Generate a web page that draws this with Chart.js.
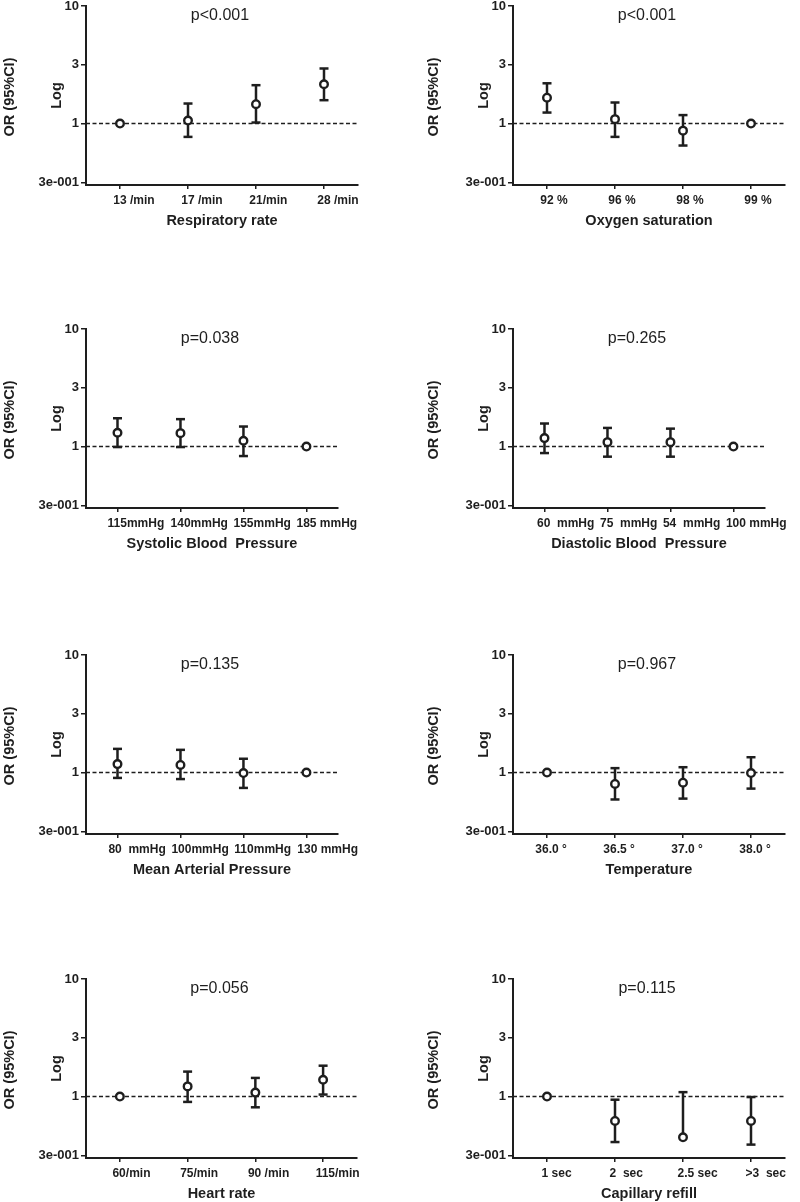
<!DOCTYPE html>
<html>
<head>
<meta charset="utf-8">
<script src="https://cdn.jsdelivr.net/npm/chart.js@4.4.1/dist/chart.umd.min.js"></script>
<style>
  body { margin: 0; background: #fff; width: 800px; height: 1202px; position: relative; overflow: hidden; }
  canvas { position: absolute; }
</style>
</head>
<body>
<script>
// log axis with a tick every half decade (labelled like the original)
const yTicks = [0.3162, 1, 3.162, 10];
const yTickLabels = ['3e-001', '1', '3', '10'];
const yMin = 0.306;
const yMax = 10;
const refOR = 1;

const respCats = ['13 /min', '17 /min', '21/min', '28 /min'];
const respOR = [1, 1.06, 1.46, 2.16];
const respLo = [null, 0.77, 1.02, 1.58];
const respHi = [null, 1.48, 2.12, 2.94];

const oxyCats = ['92 %', '96 %', '98 %', '99 %'];
const oxyOR = [1.66, 1.09, 0.87, 1];
const oxyLo = [1.24, 0.77, 0.65, null];
const oxyHi = [2.2, 1.51, 1.18, null];

const sysCats = ['115mmHg', '140mmHg', '155mmHg', '185 mmHg'];
const sysOR = [1.31, 1.3, 1.12, 1];
const sysLo = [0.99, 0.99, 0.83, null];
const sysHi = [1.74, 1.71, 1.48, null];

const diaCats = ['60  mmHg', '75  mmHg', '54  mmHg', '100 mmHg'];
const diaOR = [1.18, 1.09, 1.09, 1];
const diaLo = [0.88, 0.82, 0.82, null];
const diaHi = [1.57, 1.44, 1.42, null];

const mapCats = ['80  mmHg', '100mmHg', '110mmHg', '130 mmHg'];
const mapOR = [1.18, 1.16, 0.99, 1];
const mapLo = [0.9, 0.88, 0.74, null];
const mapHi = [1.59, 1.56, 1.31, null];

const tempCats = ['36.0 °', '36.5 °', '37.0 °', '38.0 °'];
const tempOR = [1, 0.8, 0.82, 0.99];
const tempLo = [null, 0.59, 0.6, 0.73];
const tempHi = [null, 1.09, 1.11, 1.35];

const hrCats = ['60/min', '75/min', '90 /min', '115/min'];
const hrOR = [1, 1.22, 1.08, 1.39];
const hrLo = [null, 0.9, 0.81, 1.04];
const hrHi = [null, 1.63, 1.44, 1.83];

const capCats = ['1 sec', '2  sec', '2.5 sec', '>3  sec'];
const capOR = [1, 0.62, 0.45, 0.62];
const capLo = [null, 0.41, null, 0.39];
const capHi = [null, 0.94, 1.09, 0.99];

const panels = [
  { title: 'Respiratory rate', p: 'p<0.001', cats: respCats, or: respOR, lo: respLo, hi: respHi },
  { title: 'Oxygen saturation', p: 'p<0.001', cats: oxyCats, or: oxyOR, lo: oxyLo, hi: oxyHi },
  { title: 'Systolic Blood  Pressure', p: 'p=0.038', cats: sysCats, or: sysOR, lo: sysLo, hi: sysHi },
  { title: 'Diastolic Blood  Pressure', p: 'p=0.265', cats: diaCats, or: diaOR, lo: diaLo, hi: diaHi },
  { title: 'Mean Arterial Pressure', p: 'p=0.135', cats: mapCats, or: mapOR, lo: mapLo, hi: mapHi },
  { title: 'Temperature', p: 'p=0.967', cats: tempCats, or: tempOR, lo: tempLo, hi: tempHi },
  { title: 'Heart rate', p: 'p=0.056', cats: hrCats, or: hrOR, lo: hrLo, hi: hrHi },
  { title: 'Capillary refill', p: 'p=0.115', cats: capCats, or: capOR, lo: capLo, hi: capHi }
];

const FONT = '"Liberation Sans", Arial, Helvetica, sans-serif';
const ink = '#1e1e1e';
const rowTops = [-4, 319, 645, 969];
const colLefts = [0, 427];
const orX = [10, 6.5];

Chart.defaults.font.family = FONT;
Chart.defaults.color = ink;

// the numbers sit under the tick, the unit hangs to the right
function numberOffset(cats) {
  const c = document.createElement('canvas').getContext('2d');
  c.font = 'bold 12px ' + FONT;
  let sum = 0;
  cats.forEach(t => {
    const m = t.match(/^[\d.>]+/);
    sum += c.measureText(m ? m[0] : t).width;
  });
  return -sum / cats.length / 2;
}

function makeChart(p, i) {
  const col = i % 2, row = Math.floor(i / 2);
  const canvas = document.createElement('canvas');
  canvas.width = 373;
  canvas.height = 234;
  canvas.style.left = colLefts[col] + 'px';
  canvas.style.top = rowTops[row] + 'px';
  document.body.appendChild(canvas);

  const markers = {
    data: p.or.map((v, k) => ({ x: k, y: v })),
    showLine: false,
    pointRadius: 3.8,
    pointBorderWidth: 2.4,
    pointBackgroundColor: '#fff',
    pointBorderColor: ink
  };

  const bars = [];
  p.or.forEach((v, k) => {
    if (p.hi[k] == null) return;
    const noLo = p.lo[k] == null;
    bars.push({
      data: [{ x: k, y: noLo ? v : p.lo[k] }, { x: k, y: p.hi[k] }],
      showLine: true,
      borderColor: ink,
      borderWidth: 2.5,
      pointStyle: 'line',
      pointRadius: [noLo ? 0 : 4.5, 4.5],
      pointBorderWidth: 2.5,
      pointBorderColor: ink
    });
  });

  const ref = {
    data: [{ x: -0.5, y: refOR }, { x: 3.5, y: refOR }],
    showLine: true,
    borderColor: ink,
    borderWidth: 1.5,
    borderDash: [4, 2.5],
    pointRadius: 0
  };

  new Chart(canvas, {
    type: 'scatter',
    data: { datasets: [markers, ...bars, ref] },
    options: {
      responsive: false,
      animation: false,
      events: [],
      layout: { padding: { top: 10, right: 15, left: 0, bottom: 0 } },
      plugins: { legend: { display: false }, tooltip: { enabled: false } },
      scales: {
        x: {
          type: 'linear',
          min: -0.5,
          max: 3.5,
          afterBuildTicks: s => { s.ticks = p.cats.map((c, k) => ({ value: k })); },
          afterFit: s => { s.height = 45; },
          ticks: {
            callback: v => p.cats[v],
            align: 'start',
            labelOffset: numberOffset(p.cats),
            autoSkip: false,
            maxRotation: 0,
            padding: 4,
            color: ink,
            font: { size: 12, weight: 'bold' }
          },
          grid: { drawOnChartArea: false, tickLength: 4, color: ink, lineWidth: 1.5 },
          border: { color: ink, width: 2 },
          title: {
            display: true,
            text: p.title,
            color: ink,
            font: { size: 14.5, weight: 'bold' },
            padding: { top: 0, bottom: 0 }
          }
        },
        y: {
          type: 'logarithmic',
          min: yMin,
          max: yMax,
          afterBuildTicks: s => { s.ticks = yTicks.map(v => ({ value: v })); },
          afterFit: s => { s.width = 86; },
          ticks: {
            callback: (v, k) => yTickLabels[k],
            autoSkip: false,
            padding: 2,
            color: ink,
            font: { size: 13, weight: 'bold' }
          },
          grid: { drawOnChartArea: false, tickLength: 5, color: ink, lineWidth: 1.5 },
          border: { color: ink, width: 2 },
          title: {
            display: true,
            text: 'Log',
            color: ink,
            font: { size: 14.5, weight: 'bold' },
            padding: { top: 48, bottom: 0 }
          }
        }
      }
    },
    plugins: [{
      id: 'panelText',
      afterDraw(chart) {
        const { ctx, chartArea: a } = chart;
        ctx.save();
        ctx.fillStyle = ink;
        ctx.textAlign = 'center';
        ctx.textBaseline = 'middle';
        ctx.font = '16px ' + FONT;
        ctx.fillText(p.p, (a.left + a.right) / 2 - 2, a.top + 10);
        ctx.translate(orX[col], (a.top + a.bottom) / 2 + 1.5);
        ctx.rotate(-Math.PI / 2);
        ctx.font = 'bold 14.5px ' + FONT;
        ctx.fillText('OR (95%CI)', 0, 0);
        ctx.restore();
      }
    }]
  });
}

panels.forEach(makeChart);
</script>
</body>
</html>
